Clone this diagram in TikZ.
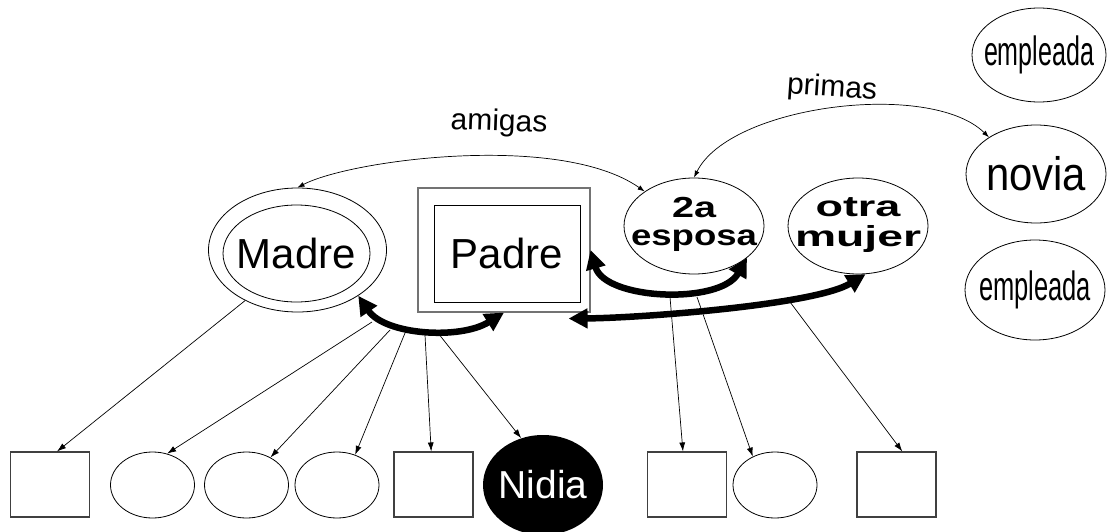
\documentclass[tikz,border=0pt]{standalone}
\usepackage{fontspec}
\setmainfont{Liberation Sans}
\usepackage{graphicx}
\usetikzlibrary{arrows.meta,shapes.geometric,calc}

% text that does not widen the shape around it
\newcommand\ctext[1]{\makebox[0pt]{#1}}
\newcommand\wide[2]{\resizebox{#1}{\height}{#2}}
\newcommand\twoline[2]{\makebox[0pt]{\begin{tabular}{@{}c@{}}#1\\#2\end{tabular}}}

\begin{document}
\begin{tikzpicture}[x=1pt,y=-1pt,
  oval/.style={ellipse, draw, line width=0.8pt, inner sep=0pt},
  frame/.style={rectangle, draw=black!75, line width=1.1pt, inner sep=0pt},
  kidbox/.style={frame, minimum width=79pt, minimum height=65pt},
  kidoval/.style={oval, minimum width=84pt, minimum height=66pt},
  parentfont/.style={font=\fontsize{42}{42}\selectfont},
  wifefont/.style={font=\fontsize{29}{28}\selectfont\bfseries},
  kid/.style={-{Latex[length=9pt,width=6pt]}, line width=0.7pt},
  tie/.style={{Latex[length=7pt,width=5pt]}-{Latex[length=7pt,width=5pt]}, line width=0.7pt},
  bond/.style={{Triangle[length=19pt,width=19pt]}-{Triangle[length=19pt,width=19pt]}, line width=6.5pt},
  tag/.style={font=\fontsize{30}{30}\selectfont}]
\useasboundingbox (0,0) rectangle (1107,532);

% parents
\node[oval, minimum width=178pt, minimum height=124pt] (madreO) at (297.5,250) {};
\node[oval, minimum width=147pt, minimum height=97pt, parentfont] (madre) at (296.5,253.5) {\ctext{Madre}};
\node[frame, draw=black!55, minimum width=172pt, minimum height=124pt] (padreO) at (504,250) {};
\node[frame, draw=black, line width=0.9pt, minimum width=146pt, minimum height=97pt, parentfont] (padre) at (507,253.5) {\ctext{Padre}};

% the other women
\node[oval, minimum width=140pt, minimum height=96pt, wifefont] (esposa) at (694,226)
  {\twoline{\wide{44pt}{2a}}{\wide{126pt}{esposa}}};
\node[oval, minimum width=140pt, minimum height=96pt, wifefont] (omujer) at (858,226)
  {\twoline{\wide{85pt}{otra}}{\wide{126pt}{mujer}}};
\node[oval, minimum width=134pt, minimum height=94pt, font=\fontsize{41}{41}\selectfont] (empl1) at (1039,55)
  {\ctext{\wide{110pt}{empleada}}};
\node[oval, minimum width=140pt, minimum height=98pt, font=\fontsize{47}{47}\selectfont] (novia) at (1036,174)
  {\ctext{\wide{100pt}{novia}}};
\node[oval, minimum width=140pt, minimum height=100pt, font=\fontsize{41}{41}\selectfont] (empl2) at (1035,290)
  {\ctext{\wide{112pt}{empleada}}};

% children
\node[kidbox] (kid1) at (50,484.5) {};
\node[kidoval] (kid2) at (152.5,485) {};
\node[kidoval] (kid3) at (246.5,485) {};
\node[kidoval] (kid4) at (337,485) {};
\node[kidbox] (kid5) at (433.5,484.5) {};
\node[ellipse, fill=black, inner sep=0pt, minimum width=120pt, minimum height=100pt,
      text=white, font=\fontsize{39}{39}\selectfont] (nidia) at (543,485) {\ctext{Nidia}};
\node[kidbox] (kid7) at (687,484.5) {};
\node[kidoval] (kid8) at (775,485) {};
\node[kidbox] (kid9) at (896.5,484.5) {};

% relation labels
\node[tag, rotate=-2] (amigas) at (499,123) {amigas};
\node[tag, rotate=-4] (primas) at (832,89) {primas};

% thin relations
\draw[tie] (madreO.north) .. controls (350,160) and (560,132) .. (esposa.145);
\draw[tie] (esposa.north) .. controls (730,105) and (930,80) .. (novia.142);

% couples
\draw[bond] (madreO.-37) .. controls (385,335) and (460,340) .. (padreO.south);
\draw[bond] (padreO.east) .. controls (605,300) and (720,305) .. (esposa.-31);
\draw[bond] ($(padreO.south east)+(-22,6)$) .. controls (640,318) and (815,305) .. (omujer.-81);

% where the descent lines leave the couples
\coordinate (s2) at (372,322);
\coordinate (s3) at (390,330);
\coordinate (s4) at (405,333);
\coordinate (s5) at (425,335);
\coordinate (s6) at (438,333);
\coordinate (s7) at (670,297);
\coordinate (s8) at (697,297);
\coordinate (s9) at (790,302);

\draw[kid] (madreO.-136) -- (kid1.78);
\draw[kid] (s2) -- (kid2.65);
\draw[kid] (s3) -- (kid3.49);
\draw[kid] (s4) -- (kid4.59);
\draw[kid] (s5) -- (kid5.94);
\draw[kid] (s6) -- (nidia.115);
\draw[kid] (s7) -- (kid7.97);
\draw[kid] (s8) -- (kid8.128);
\draw[kid] (s9) -- (kid9.80);
\end{tikzpicture}
\end{document}
